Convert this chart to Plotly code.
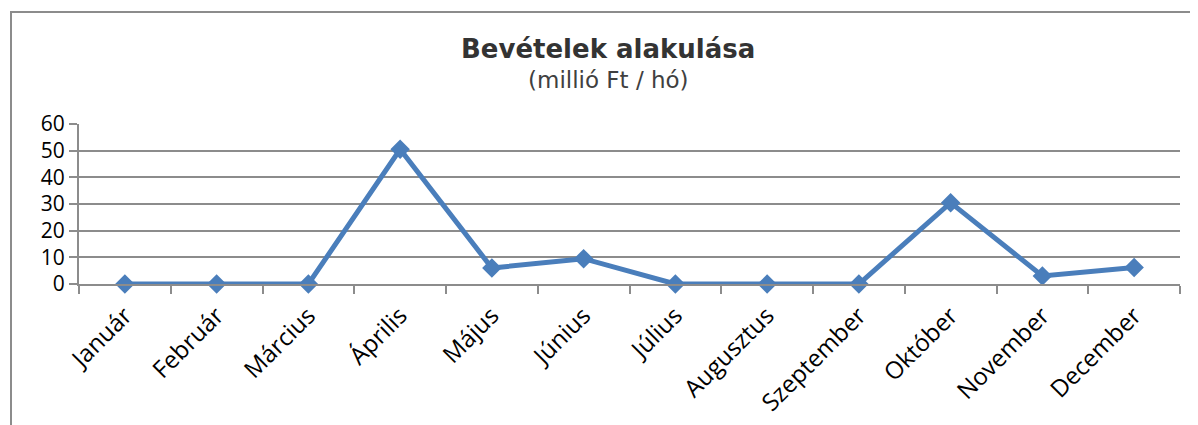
import plotly.graph_objects as go

months = ["Január", "Február", "Március", "Április", "Május", "Június",
          "Július", "Augusztus", "Szeptember", "Október", "November", "December"]
values = [0, 0, 0, 50.5, 6, 9.5, 0, 0, 0, 30.5, 3, 6.2]
y_ticks = [0, 10, 20, 30, 40, 50, 60]

fig = go.Figure()
fig.add_trace(go.Scatter(
    x=months, y=values, mode="lines+markers",
    line=dict(color="#4a7ebb", width=5),
    marker=dict(symbol="diamond", size=15, color="#4a7ebb"),
    showlegend=False, cliponaxis=False,
))

OFF = 8  # page body margin
W, H = 1198 - OFF, 425 - OFF
L = 79 - OFF
R = W - (1180 - OFF)
T = 124 - OFF
B = H - (284 - OFF)
pw = W - L - R
ph = H - T - B

def px2x(p):
    return (p - OFF - L) / pw

def py2y(p):
    return (H - B - (p - OFF)) / ph

cx = px2x(608)

fig.update_layout(
    width=W, height=H,
    margin=dict(l=L, r=R, t=T, b=B, autoexpand=False),
    paper_bgcolor="white", plot_bgcolor="white",
    font=dict(family="Open Sans, Liberation Sans, sans-serif", color="black"),
    xaxis=dict(
        type="category", range=[-0.5, 11.5], automargin=False,
        tickson="boundaries", ticks="outside", ticklen=8, tickwidth=2,
        tickcolor="#8c8c8c", showline=True, linecolor="#8c8c8c", linewidth=2,
        showgrid=False, tickangle=-45, tickfont=dict(size=24, color="black"),
        ticklabelstandoff=6,
    ),
    yaxis=dict(
        range=[0, 60], tickvals=y_ticks, ticks="outside", ticklen=8,
        automargin=False,
        tickwidth=2, tickcolor="#8c8c8c", showline=True, linecolor="#8c8c8c",
        linewidth=2, showgrid=True, gridcolor="#8c8c8c", gridwidth=2,
        zeroline=False, tickfont=dict(size=21, color="black"),
    ),
    annotations=[
        dict(text="<b>Bevételek alakulása</b>", xref="paper", yref="paper",
             x=cx, y=py2y(49), showarrow=False,
             font=dict(family="DejaVu Sans", size=26, color="#333333"),
             xanchor="center", yanchor="middle"),
        dict(text="(millió Ft / hó)", xref="paper", yref="paper",
             x=cx, y=py2y(80), showarrow=False,
             font=dict(family="DejaVu Sans", size=23, color="#404040"),
             xanchor="center", yanchor="middle"),
    ],
    shapes=[
        dict(type="path", xref="paper", yref="paper",
             path=f"M {px2x(11)} {py2y(440)} L {px2x(11)} {py2y(12)} L {px2x(1210)} {py2y(12)}",
             line=dict(color="#8c8c8c", width=2)),
    ],
)

fig.write_html("out.html")
